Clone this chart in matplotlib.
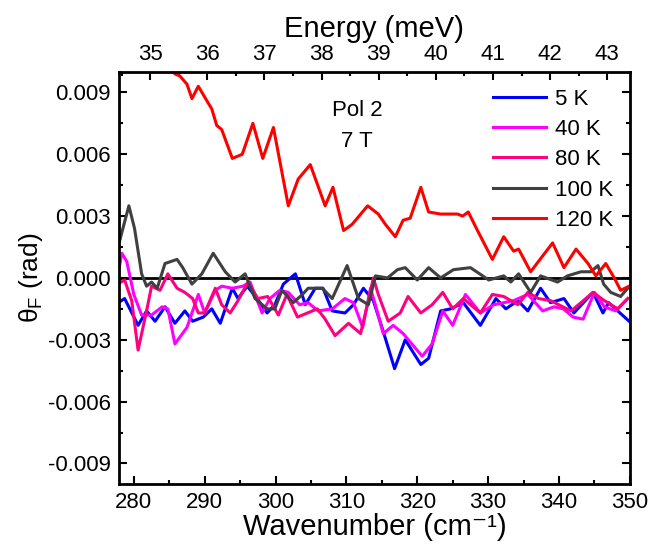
import numpy as np
import matplotlib.pyplot as plt
from matplotlib.ticker import MultipleLocator, FixedLocator, FormatStrFormatter

plt.rcParams['font.family'] = ['Liberation Sans', 'DejaVu Sans']
plt.rcParams['mathtext.fontset'] = 'custom'
plt.rcParams['mathtext.rm'] = 'Liberation Sans'
plt.rcParams['mathtext.it'] = 'Liberation Sans'
plt.rcParams['axes.unicode_minus'] = False

# 120 K
x_120 = [278.0, 283.0, 285.0, 285.8, 286.5, 287.5, 288.2, 289.1, 290.3, 291.0, 291.7, 292.4,
         293.9, 295.3, 296.8, 298.2, 299.7, 301.8, 303.2, 304.9, 307.0, 308.1, 309.6,
         310.8, 313.0, 314.5, 315.5, 316.9, 318.0, 319.0, 320.5, 321.6, 323.3, 324.7,
         325.7, 326.4, 327.2, 328.5, 330.6, 332.2, 333.6, 334.3, 336.0, 337.1, 339.1,
         340.7, 342.4, 344.1, 345.2, 346.6, 347.8, 348.7, 349.9]
y_120 = [0.0140, 0.0118, 0.0104, 0.0099, 0.0098, 0.0094, 0.0087, 0.0093, 0.0086, 0.0082, 0.0074, 0.0072,
         0.0058, 0.0060, 0.0075, 0.0058, 0.0073, 0.0035, 0.0048, 0.0055, 0.0035, 0.0044, 0.0023,
         0.0026, 0.0035, 0.0031, 0.0026, 0.0020, 0.0028, 0.0029, 0.0044, 0.0032, 0.0031, 0.0031,
         0.0031, 0.0030, 0.0032, 0.0023, 0.0009, 0.0020, 0.0013, 0.0014, 0.0003, 0.0008, 0.0017,
         0.0005, 0.0014, 0.0007, 0.0001, 0.0007, 0.0000, -0.0006, -0.0004]

# 100 K
x_100 = [278.0, 279.3, 280.1, 281.1, 281.8, 282.5, 283.3, 284.4, 286.1, 286.9, 288.2, 289.6,
         291.2, 292.9, 294.3, 295.7, 297.1, 298.8, 299.9, 300.9, 302.5, 303.8, 304.6, 306.6,
         308.0, 310.1, 311.7, 313.1, 314.1, 315.8, 317.2, 318.3, 320.0, 321.6, 323.3, 325.1,
         327.5, 330.1, 332.2, 333.2, 334.3, 336.0, 337.4, 339.8, 341.2, 343.1, 344.5, 345.5,
         346.3, 347.3, 348.7, 349.7]
y_100 = [0.0018, 0.0035, 0.0024, 0.0002, -0.0004, -0.0002, -0.0005, 0.0007, 0.0009, 0.0005, -0.0003, 0.0002,
         0.0012, 0.0003, -0.0002, 0.0002, -0.0010, -0.0015, -0.0015, -0.0006, -0.0012, -0.0008, -0.0005, -0.0005,
         -0.0010, 0.0006, -0.0010, -0.0013, 0.0001, 0.0000, 0.0004, 0.0005, -0.0001, 0.0005, 0.0000, 0.0004,
         0.0005, -0.0001, 0.0001, -0.0002, 0.0002, -0.0007, 0.0001, -0.0002, 0.0001, 0.0003, 0.0003, 0.0006,
         -0.0003, -0.0007, -0.0009, -0.0005]

# 80 K
x_80 = [277.7, 278.7, 279.7, 280.6, 281.8, 282.5, 283.7, 284.8, 286.1, 287.2, 288.3, 289.1,
        290.0, 291.5, 292.4, 293.6, 294.7, 296.1, 297.5, 298.9, 300.4, 301.6, 303.1, 304.5,
        305.9, 307.0, 308.4, 310.3, 312.0, 313.1, 313.8, 314.5, 315.9, 317.6, 318.7, 320.5,
        322.1, 323.6, 325.0, 326.5, 328.9, 330.6, 332.2, 334.2, 335.6, 337.1, 338.8, 341.7,
        343.1, 344.8, 346.4, 348.3, 349.7]
y_80 = [-0.0003, -0.0001, -0.0011, -0.0035, -0.0016, -0.0004, -0.0006, 0.0002, -0.0005, -0.0007, -0.0010, -0.0017,
        -0.0017, -0.0005, -0.0013, -0.0017, -0.0011, -0.0002, -0.0010, -0.0009, -0.0018, -0.0008, -0.0019, -0.0017,
        -0.0015, -0.0020, -0.0028, -0.0022, -0.0027, -0.0011, 0.0000, -0.0008, -0.0021, -0.0017, -0.0009, -0.0017,
        -0.0013, -0.0007, -0.0015, -0.0010, -0.0017, -0.0008, -0.0009, -0.0013, -0.0007, -0.0010, -0.0011, -0.0016,
        -0.0012, -0.0007, -0.0011, -0.0015, -0.0010]

# 40 K
x_40 = [277.8, 278.3, 279.0, 280.0, 281.1, 282.5, 284.0, 284.8, 285.8, 287.5, 288.3, 289.1,
        290.0, 291.5, 292.4, 293.9, 295.4, 296.4, 298.1, 299.2, 300.6, 301.8, 303.4, 304.6,
        306.0, 308.0, 309.8, 311.0, 312.3, 313.4, 314.0, 315.2, 316.6, 318.0, 320.7, 322.1,
        323.6, 325.0, 326.8, 328.9, 330.8, 333.6, 335.6, 337.7, 339.3, 340.6, 342.0, 343.4,
        345.0, 346.4, 348.0, 349.7]
y_40 = [0.0002, 0.0012, 0.0008, -0.0008, -0.0018, -0.0018, -0.0014, -0.0015, -0.0032, -0.0024, -0.0016, -0.0008,
        -0.0017, -0.0006, -0.0004, -0.0005, -0.0004, -0.0002, -0.0017, -0.0010, -0.0006, -0.0007, -0.0013, -0.0012,
        -0.0016, -0.0015, -0.0010, -0.0012, -0.0024, -0.0005, -0.0012, -0.0027, -0.0023, -0.0027, -0.0038, -0.0032,
        -0.0016, -0.0023, -0.0008, -0.0017, -0.0013, -0.0011, -0.0008, -0.0016, -0.0014, -0.0015, -0.0019, -0.0020,
        -0.0007, -0.0014, -0.0016, -0.0010]

# 5 K
x_5 = [277.8, 278.7, 280.6, 281.8, 283.0, 284.4, 285.8, 287.2, 288.3, 289.8, 291.0, 292.2,
       293.9, 294.7, 296.0, 297.4, 298.8, 299.9, 301.1, 302.8, 304.2, 305.6, 306.7, 308.0,
       309.8, 311.0, 312.4, 313.8, 315.2, 316.8, 318.3, 320.5, 321.6, 323.3, 324.7, 326.5,
       328.9, 331.1, 332.5, 334.2, 335.6, 337.4, 338.8, 340.7, 342.1, 344.8, 346.2, 347.0,
       349.9]
y_5 = [-0.0012, -0.0010, -0.0023, -0.0016, -0.0021, -0.0014, -0.0022, -0.0016, -0.0021, -0.0019, -0.0015, -0.0022,
       -0.0005, -0.0010, -0.0004, -0.0010, -0.0017, -0.0013, -0.0003, 0.0002, -0.0013, -0.0005, -0.0005, -0.0016,
       -0.0017, -0.0013, -0.0005, -0.0011, -0.0026, -0.0044, -0.0030, -0.0042, -0.0039, -0.0016, -0.0015, -0.0012,
       -0.0023, -0.0010, -0.0015, -0.0011, -0.0016, -0.0005, -0.0012, -0.0010, -0.0017, -0.0007, -0.0017, -0.0012,
       -0.0021]

energy_ticks = [35, 36, 37, 38, 39, 40, 41, 42, 43]

series = [
    (x_5, y_5, '#0000ff', '5 K'),
    (x_40, y_40, '#ff00ff', '40 K'),
    (x_80, y_80, '#ff0080', '80 K'),
    (x_100, y_100, '#404040', '100 K'),
    (x_120, y_120, '#ff0000', '120 K'),
]

fig = plt.figure(figsize=(6.5, 5.57), dpi=100)
ax = fig.add_axes([0.183, 0.131, 0.786, 0.740])

ax.axhline(0, color='black', lw=2, zorder=1)
for x, y, c, lab in series:
    ax.plot(x, y, color=c, lw=2.2, label=lab, zorder=2, solid_joinstyle='round')

ax.set_xlim(277.9, 350)
ax.set_ylim(-0.010, 0.010)
ax.xaxis.set_major_locator(MultipleLocator(10))
ax.xaxis.set_minor_locator(MultipleLocator(5))
ax.yaxis.set_major_locator(MultipleLocator(0.003))
ax.yaxis.set_minor_locator(MultipleLocator(0.0015))
ax.yaxis.set_major_formatter(FormatStrFormatter('%.3f'))
ax.tick_params(which='both', direction='in', width=1.5, labelsize=16, right=True, pad=6)
ax.tick_params(which='major', length=6)
ax.tick_params(which='minor', length=3)
for s in ax.spines.values():
    s.set_linewidth(2)

ax.set_xlabel('Wavenumber (cm\u207b\u00b9)', fontsize=21, labelpad=0)
ax.set_ylabel(r'$\mathregular{\theta_F}$ (rad)', fontsize=19, labelpad=2)

top = ax.secondary_xaxis('top', functions=(lambda v: v * 0.123984, lambda e: e / 0.123984))
top.xaxis.set_major_locator(FixedLocator(energy_ticks))
top.xaxis.set_minor_locator(FixedLocator([t + 0.5 for t in energy_ticks[:-1]] + [34.5]))
top.tick_params(which='both', direction='in', width=1.5, labelsize=16, pad=5)
top.tick_params(which='major', length=6)
top.tick_params(which='minor', length=3)
top.set_xlabel('Energy (meV)', fontsize=21, labelpad=5)

ax.text(0.466, 0.868, 'Pol 2\n7 T', transform=ax.transAxes, ha='center', va='center',
        fontsize=16, linespacing=1.6)

ax.legend(loc='upper right', frameon=False, fontsize=16, handlelength=2.4,
          handletextpad=0.4, labelspacing=0.42, borderaxespad=0.35)

fig.savefig('out.png', dpi=100)
